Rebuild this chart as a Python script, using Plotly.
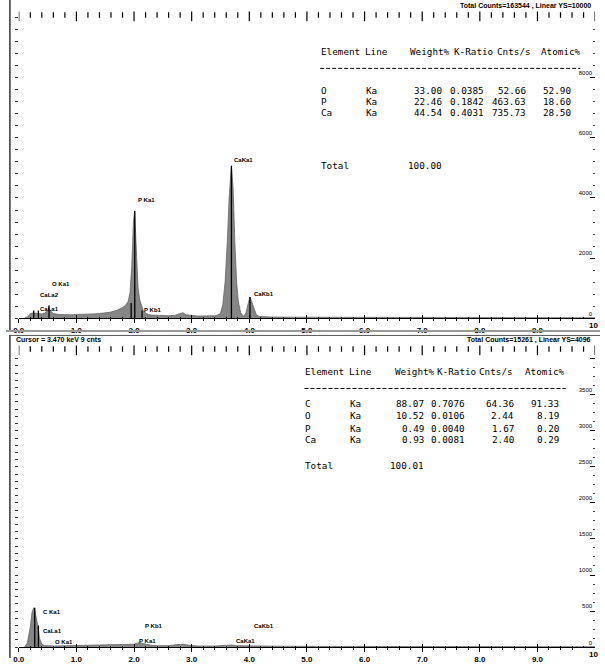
import plotly.graph_objects as go

W, H = 605, 664


def px(x):
    return x / W


def py(y):
    return 1 - y / H


# ---------------- data ----------------
x_tick_vals = [0, 1, 2, 3, 4, 5, 6, 7, 8, 9, 10]
x_tick_text = ["0.0", "1.0", "2.0", "3.0", "4.0", "5.0", "6.0", "7.0", "8.0", "9.0", "10"]

top_energy = [0.10, 0.15, 0.20, 0.25, 0.30, 0.35, 0.40, 0.45, 0.50, 0.53, 0.56, 0.60, 0.70, 0.80,
              0.90, 1.00, 1.10, 1.20, 1.30, 1.40, 1.50, 1.60, 1.70, 1.75, 1.80, 1.85, 1.90, 1.93,
              1.96, 1.99, 2.01, 2.03, 2.05, 2.07, 2.10, 2.13, 2.16, 2.20, 2.25, 2.30, 2.40, 2.50,
              2.60, 2.70, 2.80, 2.85, 2.90, 3.00, 3.10, 3.20, 3.30, 3.40, 3.45, 3.50, 3.54, 3.58,
              3.62, 3.65, 3.69, 3.72, 3.75, 3.78, 3.81, 3.85, 3.90, 3.94, 3.98, 4.01, 4.04, 4.08,
              4.12, 4.17, 4.25, 4.40, 4.60, 5.00, 6.00, 7.00, 8.00, 9.00, 10.00]
top_counts = [0, 40, 150, 170, 160, 150, 140, 170, 260, 300, 230, 150, 120, 110,
              110, 120, 120, 130, 140, 150, 170, 200, 260, 300, 350, 420, 560, 850,
              1700, 3200, 3570, 2700, 1600, 1000, 600, 380, 250, 170, 120, 100, 90, 90,
              80, 90, 160, 180, 110, 80, 70, 70, 70, 80, 100, 160, 450, 1200,
              2600, 4000, 5070, 4300, 2500, 1200, 550, 180, 60, 160, 480, 700, 560, 300,
              120, 50, 40, 35, 30, 30, 25, 20, 15, 10, 10]

top_line_energy = [0.26, 0.34, 0.525, 1.95, 2.013, 2.139, 3.69, 4.012]
top_line_height = [250, 250, 430, 500, 3570, 250, 5070, 700]

top_label_text = ["CaKa1", "P Ka1", "O Ka1", "CaLa2", "CaLa1", "P Kb1", "CaKb1"]
top_label_energy = [3.70, 2.03, 0.545, 0.34, 0.34, 2.13, 4.04]
top_label_counts = [5250, 3930, 1130, 765, 300, 265, 800]

bot_energy = [0.10, 0.15, 0.20, 0.23, 0.26, 0.28, 0.30, 0.33, 0.36, 0.40, 0.45, 0.50, 0.55, 0.60,
              0.80, 1.00, 1.20, 1.40, 1.60, 1.80, 1.90, 2.00, 2.05, 2.10, 2.15, 2.20, 2.30, 2.40,
              2.60, 2.75, 2.85, 2.95, 3.10, 3.40, 3.65, 3.70, 3.75, 4.00, 4.50, 5.00, 6.00, 8.00,
              10.00]
bot_counts = [0, 60, 280, 480, 546, 500, 420, 300, 120, 40, 20, 25, 20, 15,
              15, 18, 25, 30, 30, 30, 35, 40, 55, 60, 50, 40, 25, 20,
              20, 35, 40, 25, 15, 15, 25, 30, 20, 15, 12, 10, 8, 6,
              5]

bot_line_energy = [0.277, 0.341]
bot_line_height = [546, 300]

bot_label_text = ["C Ka1", "CaLa1", "O Ka1", "P Kb1", "P Ka1", "CaKb1", "CaKa1"]
bot_label_energy = [0.39, 0.39, 0.60, 2.16, 2.06, 4.04, 3.73]
bot_label_counts = [480, 220, 70, 290, 85, 290, 85]

top_elements = ["O", "P", "Ca"]
top_lines = ["Ka", "Ka", "Ka"]
top_weight = ["33.00", "22.46", "44.54"]
top_kratio = ["0.0385", "0.1842", "0.4031"]
top_cnts = ["52.66", "463.63", "735.73"]
top_atomic = ["52.90", "18.60", "28.50"]
top_total = "100.00"

bot_elements = ["C", "O", "P", "Ca"]
bot_lines = ["Ka", "Ka", "Ka", "Ka"]
bot_weight = ["88.07", "10.52", "0.49", "0.93"]
bot_kratio = ["0.7076", "0.0106", "0.0040", "0.0081"]
bot_cnts = ["64.36", "2.44", "1.67", "2.40"]
bot_atomic = ["91.33", "8.19", "0.20", "0.29"]
bot_total = "100.01"

header_cols = ["Element", "Line", "Weight%", "K-Ratio", "Cnts/s", "Atomic%"]

top_header_right = "Total Counts=163544 , Linear YS=10000"
bot_header_left = "Cursor = 3.470 keV 9 cnts"
bot_header_right = "Total Counts=15261 , Linear YS=4096"

top_y_ticks = [0, 2000, 4000, 6000, 8000]
bot_y_ticks = [0, 500, 1000, 1500, 2000, 2500, 3000, 3500, 4000]

# scale-row spacing (keV) for the dotted ruler along the top of each spectrum
ruler_major_step = 1.0
ruler_minor_step = 0.2

# ---------------- figure ----------------
fig = go.Figure()

FILL = "#868686"


def add_spectrum(xs, ys, xa, ya):
    fig.add_trace(go.Scatter(x=xs, y=ys, mode="lines", fill="tozeroy",
                             fillcolor=FILL, line=dict(color="#666666", width=0.8),
                             xaxis=xa, yaxis=ya, hoverinfo="skip", showlegend=False))


def add_marker_lines(es, hs, xa, ya):
    lx, ly = [], []
    for e, h in zip(es, hs):
        lx += [e, e, None]
        ly += [0, h, None]
    fig.add_trace(go.Scatter(x=lx, y=ly, mode="lines", line=dict(color="black", width=1.3),
                             xaxis=xa, yaxis=ya, hoverinfo="skip", showlegend=False))


def add_dummy(xa, ya):
    fig.add_trace(go.Scatter(x=[0], y=[0], mode="markers", marker=dict(size=1, opacity=0),
                             xaxis=xa, yaxis=ya, hoverinfo="skip", showlegend=False))


def add_ruler(xa, ya):
    n_minor = int(round(10 / ruler_minor_step))
    every = int(round(ruler_major_step / ruler_minor_step))
    major = [i * ruler_minor_step for i in range(n_minor + 1) if i % every == 0]
    minor = [i * ruler_minor_step for i in range(n_minor + 1) if i % every != 0]
    fig.add_trace(go.Scatter(x=major, y=[0.5] * len(major), mode="markers",
                             marker=dict(symbol="line-ns", size=7, color="black",
                                         line=dict(color="black", width=1.2)),
                             xaxis=xa, yaxis=ya, hoverinfo="skip", showlegend=False))
    fig.add_trace(go.Scatter(x=minor, y=[0.62] * len(minor), mode="markers",
                             marker=dict(symbol="line-ns", size=4, color="black",
                                         line=dict(color="black", width=1.2)),
                             xaxis=xa, yaxis=ya, hoverinfo="skip", showlegend=False))


add_spectrum(top_energy, top_counts, "x", "y")
add_marker_lines(top_line_energy, top_line_height, "x", "y")
add_spectrum(bot_energy, bot_counts, "x3", "y3")
add_marker_lines(bot_line_energy, bot_line_height, "x3", "y3")
add_dummy("x2", "y")
add_dummy("x", "y2")
add_dummy("x4", "y3")
add_dummy("x3", "y4")
add_ruler("x5", "y5")
add_ruler("x6", "y6")

xdom = [px(13), px(600)]
ydom_top = [py(321), py(18)]
ydom_bot = [py(653), py(355)]
ydom_top_row = [py(22), py(11)]
ydom_bot_row = [py(359), py(348)]

tickfont = dict(family="Liberation Sans", size=8, color="black")
blk = "black"


def x_main(anchor):
    return dict(domain=xdom, range=[0, 10], anchor=anchor, tickmode="array",
                tickvals=x_tick_vals, ticktext=["<b>" + t + "</b>" for t in x_tick_text],
                ticks="outside", ticklen=4,
                tickwidth=1, tickcolor=blk, showline=False,
                showgrid=False, zeroline=False, tickfont=tickfont,
                minor=dict(tick0=0, dtick=0.2, ticks="outside", ticklen=2, tickcolor=blk))


def x_in(over, anchor):
    return dict(domain=xdom, range=[0, 10], anchor=anchor, overlaying=over, side="bottom",
                tick0=0, dtick=1, ticks="inside", ticklen=3, tickcolor=blk, tickwidth=1,
                showticklabels=False, showline=True, linecolor=blk, linewidth=1,
                showgrid=False, zeroline=False,
                minor=dict(tick0=0, dtick=0.2, ticks="inside", ticklen=1, tickcolor=blk))


def x_row(anchor):
    return dict(domain=xdom, range=[0, 10], anchor=anchor, visible=False,
                showgrid=False, zeroline=False)


def y_row(dom, anchor):
    return dict(domain=dom, range=[0, 1], anchor=anchor, visible=False, showgrid=False,
                zeroline=False)


def y_left(dom, rng, dt, anchor):
    return dict(domain=dom, range=rng, anchor=anchor, side="left", tick0=0, dtick=dt,
                ticks="outside", ticklen=3, tickcolor="#333", showticklabels=False,
                showline=False, showgrid=False, zeroline=False)


def y_right(dom, rng, over, vals, mdt, anchor):
    return dict(domain=dom, range=rng, anchor=anchor, overlaying=over, side="right",
                tickmode="array", tickvals=vals, ticktext=[str(v) for v in vals],
                ticks="inside", ticklen=5, tickcolor=blk, ticklabelposition="inside top",
                tickfont=dict(family="Liberation Sans", size=6, color="black"),
                showline=False, showgrid=False, zeroline=False,
                minor=dict(tick0=0, dtick=mdt, ticks="inside", ticklen=2, tickcolor="#444"))


fig.update_layout(
    width=W, height=H, margin=dict(l=0, r=0, t=0, b=0),
    paper_bgcolor="white", plot_bgcolor="rgba(0,0,0,0)", showlegend=False,
    xaxis=x_main("y"),
    xaxis2=x_in("x", "y"),
    yaxis=y_left(ydom_top, [0, 10000], 400, "x"),
    yaxis2=y_right(ydom_top, [0, 10000], "y", top_y_ticks, 400, "x"),
    xaxis3=x_main("y3"),
    xaxis4=x_in("x3", "y3"),
    yaxis3=y_left(ydom_bot, [0, 4096], 100, "x3"),
    yaxis4=y_right(ydom_bot, [0, 4096], "y3", bot_y_ticks, 125, "x3"),
    xaxis5=x_row("y5"),
    yaxis5=y_row(ydom_top_row, "x5"),
    xaxis6=x_row("y6"),
    yaxis6=y_row(ydom_bot_row, "x6"),
)

# frame lines
shapes = [
    dict(type="line", xref="paper", yref="paper", x0=px(4), x1=px(4), y0=py(0), y1=py(334),
         line=dict(color="black", width=1.2)),
    dict(type="line", xref="paper", yref="paper", x0=px(4), x1=px(4), y0=py(338), y1=py(664),
         line=dict(color="black", width=1.2)),
    dict(type="line", xref="paper", yref="paper", x0=px(0), x1=px(605), y0=py(334), y1=py(334),
         line=dict(color="#9a9a9a", width=2)),
    dict(type="line", xref="paper", yref="paper", x0=px(4), x1=px(605), y0=py(338.5), y1=py(338.5),
         line=dict(color="#555", width=1)),
    dict(type="line", xref="paper", yref="paper", x0=px(320), x1=px(585), y0=py(69), y1=py(69),
         line=dict(color="black", width=1, dash="4px,2px")),
    dict(type="line", xref="paper", yref="paper", x0=px(304), x1=px(570), y0=py(392), y1=py(392),
         line=dict(color="black", width=1, dash="4px,2px")),
]
fig.update_layout(shapes=shapes)

ann = []
hfont = dict(family="Liberation Sans", size=7, color="black")
ann.append(dict(text="<b>" + top_header_right + "</b>", x=px(598), y=py(6), xref="paper", yref="paper",
                xanchor="right", yanchor="middle", showarrow=False, font=hfont))
ann.append(dict(text="<b>" + bot_header_left + "</b>", x=px(8), y=py(343), xref="paper", yref="paper",
                xanchor="left", yanchor="middle", showarrow=False, font=hfont))
ann.append(dict(text="<b>" + bot_header_right + "</b>", x=px(598), y=py(343), xref="paper", yref="paper",
                xanchor="right", yanchor="middle", showarrow=False, font=hfont))
for yy in (328, 660):
    ann.append(dict(text="<b>" + x_tick_text[-1] + "</b>", x=px(605), y=py(yy), xref="paper",
                    yref="paper", xanchor="right", yanchor="middle", showarrow=False, font=tickfont))

lfont = dict(family="Liberation Sans", size=6, color="black")
for t, e, c in zip(top_label_text, top_label_energy, top_label_counts):
    ann.append(dict(text="<b>" + t + "</b>", x=e, y=c, xref="x", yref="y", xanchor="left",
                    yanchor="middle", showarrow=False, font=lfont))
for t, e, c in zip(bot_label_text, bot_label_energy, bot_label_counts):
    ann.append(dict(text="<b>" + t + "</b>", x=e, y=c, xref="x3", yref="y3", xanchor="left",
                    yanchor="middle", showarrow=False, font=lfont))

tfont = dict(family="DejaVu Sans Mono", size=9.3, color="black")


def table(hdr_x, hdr_y, rows_y, total_y, right_x, data, total):
    elements, lines, weight, kratio, cnts, atomic = data
    for h, x in zip(header_cols, hdr_x):
        ann.append(dict(text=h, x=px(x), y=py(hdr_y), xref="paper", yref="paper",
                        xanchor="left", yanchor="middle", showarrow=False, font=tfont))
    for i, yy in enumerate(rows_y):
        ann.append(dict(text=elements[i], x=px(hdr_x[0]), y=py(yy), xref="paper", yref="paper",
                        xanchor="left", yanchor="middle", showarrow=False, font=tfont))
        ann.append(dict(text=lines[i], x=px(hdr_x[1] + 1), y=py(yy), xref="paper", yref="paper",
                        xanchor="left", yanchor="middle", showarrow=False, font=tfont))
        for col, rx in zip([weight, kratio, cnts, atomic], right_x):
            ann.append(dict(text=col[i], x=px(rx), y=py(yy), xref="paper", yref="paper",
                            xanchor="right", yanchor="middle", showarrow=False, font=tfont))
    ann.append(dict(text="Total", x=px(hdr_x[0]), y=py(total_y), xref="paper", yref="paper",
                    xanchor="left", yanchor="middle", showarrow=False, font=tfont))
    ann.append(dict(text=total, x=px(right_x[0]), y=py(total_y), xref="paper", yref="paper",
                    xanchor="right", yanchor="middle", showarrow=False, font=tfont))


table([319, 364, 409, 454, 498, 543], 52, [91, 102.5, 114], 167, [446, 489, 532, 578],
      (top_elements, top_lines, top_weight, top_kratio, top_cnts, top_atomic), top_total)
table([303, 347, 394, 437, 480, 527], 375, [407, 419.5, 432, 444], 470, [428, 470, 519, 565],
      (bot_elements, bot_lines, bot_weight, bot_kratio, bot_cnts, bot_atomic), bot_total)

fig.update_layout(annotations=ann)
fig.write_html("out.html", config={"displayModeBar": False},
               post_script="document.body.style.margin='0px';document.body.style.overflow='hidden';")
